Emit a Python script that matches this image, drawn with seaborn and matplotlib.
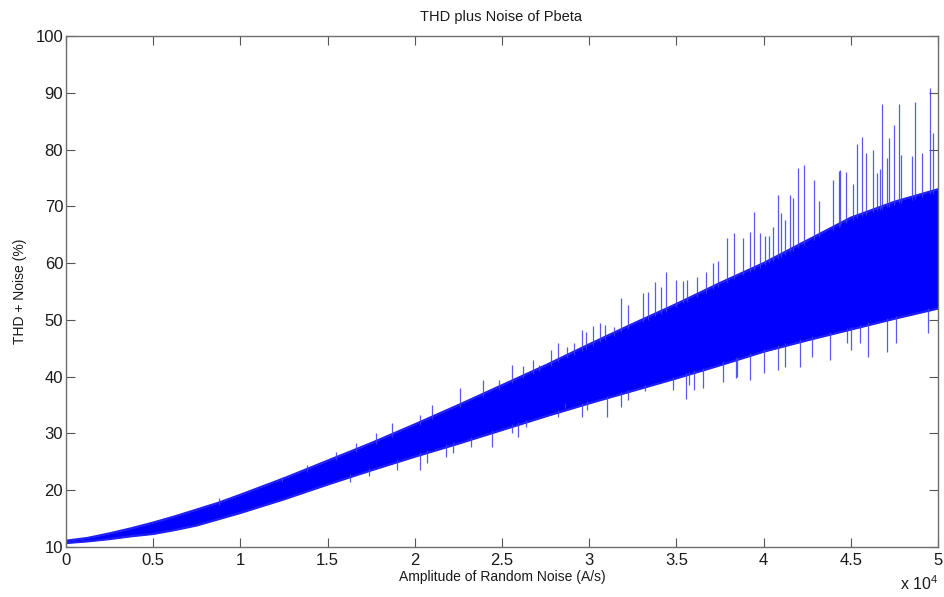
import numpy as np
import pandas as pd
import matplotlib
matplotlib.use("Agg")
import matplotlib.pyplot as plt
import seaborn as sns

# ---- data (x in units of 1e4 A/s) ----
env_x = [0, 0.125, 0.25, 0.375, 0.5, 0.625, 0.75, 0.875, 1.0, 1.25, 1.5, 1.75,
         2.0, 2.25, 2.5, 2.75, 3.0, 3.25, 3.5, 3.75, 4.0, 4.25, 4.5, 4.75, 5.0]
env_upper = [11.1, 11.6, 12.4, 13.3, 14.3, 15.4, 16.6, 17.8, 19.2, 22.1, 25.2,
             28.3, 31.6, 35.0, 38.5, 42.0, 45.7, 49.3, 52.8, 56.5, 60.0, 64.0,
             68.0, 70.8, 73.0]
env_lower = [10.7, 11.0, 11.4, 11.9, 12.3, 13.0, 13.8, 14.9, 16.0, 18.4, 21.0,
             23.5, 25.9, 28.2, 30.6, 33.0, 35.3, 37.5, 39.7, 42.0, 44.4, 46.4,
             48.3, 50.2, 52.0]

spike_up_x = [0.88, 1.24, 1.38, 1.55, 1.66, 1.78, 1.87, 2.03, 2.10, 2.26, 2.39,
              2.48, 2.56, 2.62, 2.68, 2.71, 2.78, 2.82, 2.87, 2.91, 2.96, 2.98,
              3.02, 3.06, 3.09, 3.14, 3.18, 3.22, 3.31, 3.34, 3.38, 3.41, 3.44,
              3.50, 3.54, 3.56, 3.62, 3.67, 3.71, 3.74, 3.79, 3.83, 3.88, 3.92,
              3.945, 3.98, 4.01, 4.03, 4.055, 4.08, 4.10, 4.12, 4.15, 4.17, 4.20,
              4.23, 4.29, 4.32, 4.40, 4.43, 4.44, 4.47, 4.51, 4.534, 4.565, 4.59,
              4.627, 4.65, 4.67, 4.68, 4.71, 4.72, 4.75, 4.776, 4.79, 4.85,
              4.868, 4.91, 4.954, 4.97]
spike_up_y = [18.6, 22.3, 24.4, 26.7, 28.3, 30.1, 31.8, 33.2, 35.0, 38.0, 39.4,
              39.4, 42.0, 41.9, 42.9, 42.0, 44.7, 45.9, 45.2, 45.9, 48.2, 47.9,
              48.9, 49.4, 49.1, 48.7, 53.9, 52.6, 54.7, 55.0, 56.7, 55.8, 58.5,
              57.0, 56.9, 57.0, 57.5, 58.5, 60.0, 60.3, 64.4, 65.3, 64.5, 65.5,
              69.0, 65.3, 64.8, 64.7, 66.4, 72.0, 68.8, 67.6, 72.0, 71.5, 76.7,
              77.3, 74.6, 71.0, 74.6, 76.3, 76.4, 76.0, 74.0, 81.0, 82.2, 79.4,
              79.9, 75.9, 76.6, 88.0, 78.5, 82.0, 84.3, 88.0, 79.0, 78.9,
              88.4, 79.4, 90.8, 82.9]

spike_dn_x = [1.63, 1.74, 1.90, 2.03, 2.07, 2.18, 2.22, 2.32, 2.44, 2.56, 2.59,
              2.64, 2.82, 2.86, 2.96, 2.99, 3.10, 3.18, 3.22, 3.32, 3.48, 3.555,
              3.57, 3.60, 3.65, 3.77, 3.84, 3.85, 3.92, 4.00, 4.08, 4.12, 4.21,
              4.28, 4.38, 4.48, 4.50, 4.55, 4.60, 4.71, 4.76, 4.94]
spike_dn_y = [21.4, 22.5, 23.6, 23.5, 24.8, 25.9, 26.5, 27.6, 27.6, 30.1, 29.4,
              31.1, 32.9, 35.3, 32.9, 34.1, 32.9, 34.7, 35.9, 37.5, 37.6, 36.1,
              38.5, 37.7, 38.0, 39.0, 39.8, 40.0, 39.4, 40.6, 41.2, 41.7, 41.7,
              43.5, 42.9, 45.9, 44.7, 46.0, 43.5, 44.3, 45.9, 47.7]

x_ticks = [0, 0.5, 1, 1.5, 2, 2.5, 3, 3.5, 4, 4.5, 5]
x_tick_labels = ["0", "0.5", "1", "1.5", "2", "2.5", "3", "3.5", "4", "4.5", "5"]
y_ticks = [10, 20, 30, 40, 50, 60, 70, 80, 90, 100]

SCALE = 1e4

# ---- style ----
sns.set_theme(style="white")
plt.rcParams["font.family"] = ["Liberation Sans", "DejaVu Sans"]
plt.rcParams["mathtext.fontset"] = "custom"
plt.rcParams["mathtext.rm"] = "Liberation Sans"

fig = plt.figure(figsize=(9.44, 5.97), dpi=100)
ax = fig.add_axes([66 / 944, 1 - 547 / 597, (938 - 66) / 944, (547 - 36) / 597])

BLUE = "#0000ff"
SPIKE = "#3c3cf0"
df = pd.DataFrame({"x": np.array(env_x) * SCALE,
                   "upper": env_upper, "lower": env_lower})

ax.fill_between(df["x"], df["lower"], df["upper"], color=BLUE, lw=0)
sns.lineplot(data=df, x="x", y="upper", color="#2020f5", lw=1.6, ax=ax)
sns.lineplot(data=df, x="x", y="lower", color="#2020f5", lw=1.6, ax=ax)

ux = np.array(spike_up_x)
ax.vlines(ux * SCALE, np.interp(ux, env_x, env_upper) - 0.5, spike_up_y,
          color=SPIKE, lw=0.9, alpha=0.85)
dx = np.array(spike_dn_x)
ax.vlines(dx * SCALE, spike_dn_y, np.interp(dx, env_x, env_lower) + 0.5,
          color=SPIKE, lw=0.9, alpha=0.85)

ax.set_xlim(0, 5 * SCALE)
ax.set_ylim(10, 100)
ax.set_xticks(np.array(x_ticks) * SCALE)
ax.set_xticklabels(x_tick_labels)
ax.set_yticks(y_ticks)
ax.set_xlabel("")
ax.set_ylabel("")

for s in ax.spines.values():
    s.set_color("#6e6e6e")
    s.set_linewidth(1.0)
    s.set_visible(True)

ax.tick_params(axis="both", direction="in", length=6.5, width=0.8,
               color="#555555", labelcolor="#1a1a1a", labelsize=12,
               top=True, right=True, bottom=True, left=True)
ax.tick_params(axis="x", pad=4)
ax.tick_params(axis="y", pad=2)
ax.grid(False)

fig.text(501 / 944, 1 - 17 / 597, "THD plus Noise of Pbeta",
         ha="center", va="center", fontsize=10.5, color="#1a1a1a")
fig.text(502 / 944, 1 - 577 / 597, "Amplitude of Random Noise (A/s)",
         ha="center", va="center", fontsize=10, color="#1a1a1a")
fig.text(20 / 944, 1 - 291 / 597, "THD + Noise (%)", rotation=90,
         ha="center", va="center", fontsize=10, color="#1a1a1a")
fig.text(938 / 944, 1 - 584 / 597, r"x 10$^{4}$",
         ha="right", va="center", fontsize=11.5, color="#1a1a1a")

fig.savefig("out.png", dpi=100, facecolor="white")
